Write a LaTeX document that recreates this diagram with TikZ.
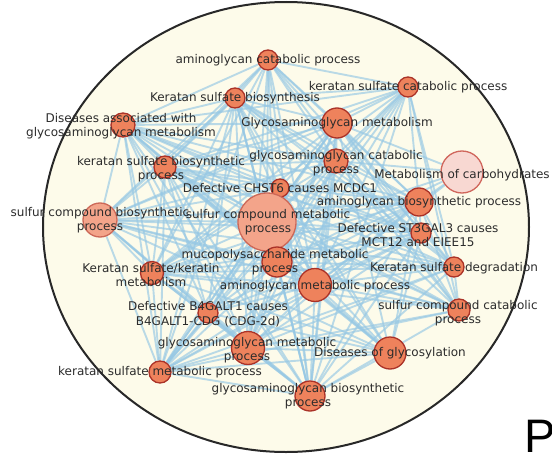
\documentclass[tikz,border=0pt]{standalone}
\usepackage{fontspec}
\setmainfont{DejaVu Sans}
\newfontfamily\panelfont{Liberation Sans}

\definecolor{bubble}{RGB}{253,251,234}
\definecolor{rim}{RGB}{40,40,40}
\definecolor{linkblue}{RGB}{150,200,228}
\definecolor{termfill}{RGB}{238,130,92}
\definecolor{termrim}{RGB}{170,50,40}
\definecolor{softfill}{RGB}{243,164,138}
\definecolor{softrim}{RGB}{204,104,88}
\definecolor{palefill}{RGB}{248,216,210}
\definecolor{palerim}{RGB}{208,102,92}
\definecolor{labelgray}{RGB}{44,44,44}

\pgfdeclarelayer{back}
\pgfdeclarelayer{edges}
\pgfsetlayers{back,edges,main}

\tikzset{
	term/.style={circle, draw=termrim, fill=termfill, line width=1.3pt, inner sep=0pt, minimum size=#1},
	softterm/.style={term=#1, draw=softrim, fill=softfill},
	paleterm/.style={term=#1, draw=palerim, fill=palefill},
	lbl/.style={font=\fontsize{12}{14.6}\selectfont, text=labelgray, align=center, inner sep=0pt},
	link/.style={draw=linkblue, line width=1.9pt, opacity=0.65}
}

\begin{document}
\begin{tikzpicture}[x=1pt,y=-1pt]
\useasboundingbox (0,0) rectangle (552,455);
\begin{pgfonlayer}{back}
\fill[white] (0,0) rectangle (552,455);
\draw[rim, fill=bubble, line width=2pt] (286,227) ellipse [x radius=243, y radius=225];
\end{pgfonlayer}

\node[term=20pt] (acp) at (268,60) {};
\node[term=20pt] (kscp) at (408,87) {};
\node[term=20pt] (ksb) at (235,98) {};
\node[term=24pt] (dagm) at (123,125) {};
\node[term=30pt] (gm) at (337,123) {};
\node[term=22pt] (ksbp) at (165,167) {};
\node[term=24pt] (gcp) at (336,161) {};
\node[paleterm=42pt] (moc) at (462,172) {};
\node[term=18pt] (chst) at (280,188) {};
\node[term=28pt] (abp) at (419,202) {};
\node[softterm=34pt] (scbp) at (100,220) {};
\node[softterm=58pt] (scmp) at (267,222) {};
\node[term=20pt] (st3) at (421,233) {};
\node[term=30pt] (mmp) at (277,262) {};
\node[term=23pt] (kskm) at (152,273) {};
\node[term=33pt] (amp) at (315,285) {};
\node[term=20pt] (ksd) at (454,267) {};
\node[term=22pt] (sccp) at (459,310) {};
\node[term=20pt] (b4) at (208,313) {};
\node[term=33pt] (gmp) at (248,348) {};
\node[term=32pt] (dog) at (390,353) {};
\node[term=30pt] (gbp) at (310,396) {};
\node[term=22pt] (ksmp) at (160,372) {};

\begin{pgfonlayer}{edges}
\foreach \a [count=\i] in {acp,kscp,ksb,dagm,gm,ksbp,gcp,abp,scbp,scmp,mmp,kskm,amp,ksd,sccp,gmp,gbp,ksmp} {
	\foreach \b [count=\j] in {acp,kscp,ksb,dagm,gm,ksbp,gcp,abp,scbp,scmp,mmp,kskm,amp,ksd,sccp,gmp,gbp,ksmp} {
		\ifnum\j>\i \draw[link] (\a) -- (\b); \fi
	}
}
\foreach \a in {chst,st3,b4,dog} {
	\foreach \b in {dagm,gm,ksb,kskm,gmp,gbp,amp,mmp,abp,ksbp,ksmp,scmp,scbp} {
		\draw[link] (\a) -- (\b);
	}
}
\foreach \a/\b in {chst/st3,chst/b4,chst/dog,st3/b4,st3/dog,b4/dog} {
	\draw[link] (\a) -- (\b);
}
\foreach \b in {gm,abp,amp,gcp,mmp,kskm} {
	\draw[link] (moc) -- (\b);
}
\end{pgfonlayer}

\node[lbl] (acp-t) at (acp) {aminoglycan catabolic process};
\node[lbl] (kscp-t) at (kscp) {keratan sulfate catabolic process};
\node[lbl] (ksb-t) at (ksb) {Keratan sulfate biosynthesis};
\node[lbl] (dagm-t) at (121,126) {Diseases associated with\\glycosaminoglycan metabolism};
\node[lbl] (gm-t) at (gm) {Glycosaminoglycan metabolism};
\node[lbl] (ksbp-t) at (161,169) {keratan sulfate biosynthetic\\process};
\node[lbl] (gcp-t) at (336,163) {glycosaminoglycan catabolic\\process};
\node[lbl] (moc-t) at (462,175) {Metabolism of carbohydrates};
\node[lbl] (chst-t) at (chst) {Defective CHST6 causes MCDC1};
\node[lbl] (abp-t) at (abp) {aminoglycan biosynthetic process};
\node[lbl] (scbp-t) at (scbp) {sulfur compound biosynthetic\\process};
\node[lbl] (scmp-t) at (268,222) {sulfur compound metabolic\\process};
\node[lbl] (st3-t) at (418,235) {Defective ST3GAL3 causes\\MCT12 and EIEE15};
\node[lbl] (mmp-t) at (275,262) {mucopolysaccharide metabolic\\process};
\node[lbl] (kskm-t) at (151,275) {Keratan sulfate/keratin\\metabolism};
\node[lbl] (amp-t) at (315,286) {aminoglycan metabolic process};
\node[lbl] (ksd-t) at (454,268) {Keratan sulfate degradation};
\node[lbl] (sccp-t) at (458,313) {sulfur compound catabolic\\process};
\node[lbl] (b4-t) at (208,314) {Defective B4GALT1 causes\\B4GALT1-CDG (CDG-2d)};
\node[lbl] (gmp-t) at (247,350) {glycosaminoglycan metabolic\\process};
\node[lbl] (dog-t) at (390,353) {Diseases of glycosylation};
\node[lbl] (gbp-t) at (308,396) {glycosaminoglycan biosynthetic\\process};
\node[lbl] (ksmp-t) at (ksmp) {keratan sulfate metabolic process};

\node[anchor=base west, inner sep=0pt, font=\panelfont\fontsize{47}{47}\selectfont] (panel) at (524,452) {P};
\end{tikzpicture}
\end{document}
